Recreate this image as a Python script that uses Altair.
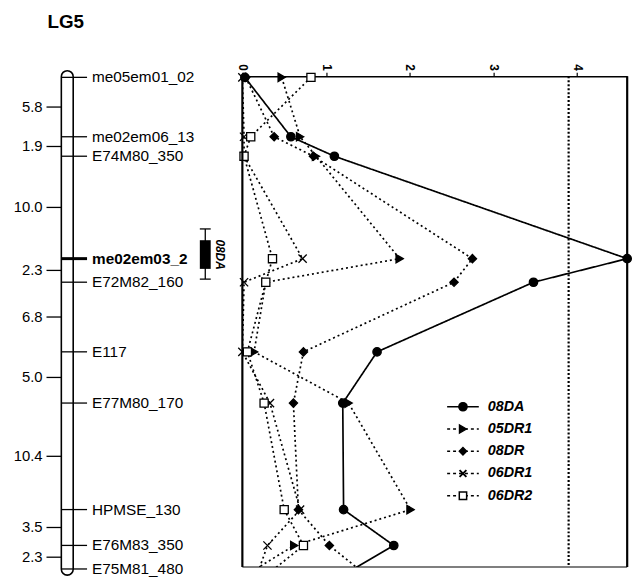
import altair as alt
import pandas as pd

FONT = "Liberation Sans"

# ---------------- data ----------------
markers = ["me05em01_02", "me02em06_13", "E74M80_350", "me02em03_2", "E72M82_160",
           "E117", "E77M80_170", "HPMSE_130", "E76M83_350", "E75M81_480"]
intervals = [5.8, 1.9, 10.0, 2.3, 6.8, 5.0, 10.4, 3.5, 2.3]   # cM between markers
series_names = ["08DA", "05DR1", "08DR", "06DR1", "06DR2"]
lod_08DA = [0.03, 0.58, 1.10, 4.60, 3.48, 1.61, 1.20, 1.21, 1.81, 1.33]
lod_05DR1 = [0.47, 0.69, 0.88, 1.88, 0.28, 0.14, 1.27, 2.01, 0.62, 0.16]
lod_08DR = [0.04, 0.38, 0.85, 2.75, 2.53, 0.73, 0.61, 0.67, 1.04, 1.39]
lod_06DR1 = [0.00, 0.02, 0.02, 0.72, 0.02, 0.00, 0.33, 0.69, 0.30, 0.20]
lod_06DR2 = [0.82, 0.10, 0.02, 0.36, 0.28, 0.06, 0.26, 0.50, 0.73, 0.38]
qtl_name = "08DA"
qtl_marker = "me02em03_2"
qtl_box = [15.9, 18.7]       # cM
qtl_whisker = [14.8, 19.7]   # cM
threshold = 3.9
x_ticks = [0, 1, 2, 3, 4]
title_text = "LG5"

# cumulative positions
pos = [0.0]
for d in intervals:
    pos.append(round(pos[-1] + d, 1))

lods = [lod_08DA, lod_05DR1, lod_08DR, lod_06DR1, lod_06DR2]
rows = []
for s, vals in zip(series_names, lods):
    for m, p, v in zip(markers, pos, vals):
        rows.append({"series": s, "marker": m, "pos": p, "lod": v})
df = pd.DataFrame(rows)
mk_df = pd.DataFrame({"marker": markers, "pos": pos})
iv_df = pd.DataFrame({"label": [f"{v:.1f}" for v in intervals],
                      "mid": [(pos[i] + pos[i + 1]) / 2 for i in range(len(intervals))]})

# ---------------- left panel: chromosome ----------------
Y_MAX_R = 47.8
ysc_left = alt.Scale(domain=[-0.1, 48.0], reverse=True, nice=False, zero=False)


def YL(f):
    return alt.Y(f"{f}:Q", scale=ysc_left, axis=None)


chrom = alt.Chart(pd.DataFrame({"top": [pos[0] - 0.65], "bot": [pos[-1] + 0.6]})).mark_rect(
    cornerRadius=6, fill="white", stroke="black", strokeWidth=1.6
).encode(x=alt.value(62), x2=alt.value(74), y=YL("top"), y2="bot:Q")

mk_rules = alt.Chart(mk_df).transform_filter(alt.datum.marker != qtl_marker).mark_rule(
    color="black", strokeWidth=1.3
).encode(x=alt.value(62), x2=alt.value(88), y=YL("pos"))
mk_rule_b = alt.Chart(mk_df).transform_filter(alt.datum.marker == qtl_marker).mark_rule(
    color="black", strokeWidth=3
).encode(x=alt.value(62), x2=alt.value(88), y=YL("pos"))
mk_text = alt.Chart(mk_df).transform_filter(alt.datum.marker != qtl_marker).mark_text(
    align="left", baseline="middle", font=FONT, fontSize=15.5, color="black"
).encode(x=alt.value(93), y=YL("pos"), text="marker:N")
mk_text_b = alt.Chart(mk_df).transform_filter(alt.datum.marker == qtl_marker).mark_text(
    align="left", baseline="middle", font=FONT, fontSize=15.5, fontWeight="bold", color="black"
).encode(x=alt.value(93), y=YL("pos"), text="marker:N")

iv_rules = alt.Chart(iv_df).mark_rule(color="black", strokeWidth=1.3).encode(
    x=alt.value(47), x2=alt.value(62), y=YL("mid"))
iv_text = alt.Chart(iv_df).mark_text(
    align="right", baseline="middle", font=FONT, fontSize=15, color="black"
).encode(x=alt.value(43), y=YL("mid"), text="label:N")

qtl_df = pd.DataFrame({"name": [qtl_name], "b0": [qtl_box[0]], "b1": [qtl_box[1]],
                       "w0": [qtl_whisker[0]], "w1": [qtl_whisker[1]],
                       "mid": [(qtl_box[0] + qtl_box[1]) / 2]})
qtl_w = alt.Chart(qtl_df).mark_rule(color="black", strokeWidth=1.3).encode(
    x=alt.value(207.5), y=YL("w0"), y2="w1:Q")
qtl_c0 = alt.Chart(qtl_df).mark_rule(color="black", strokeWidth=1.3).encode(
    x=alt.value(202), x2=alt.value(213), y=YL("w0"))
qtl_c1 = alt.Chart(qtl_df).mark_rule(color="black", strokeWidth=1.3).encode(
    x=alt.value(202), x2=alt.value(213), y=YL("w1"))
qtl_b = alt.Chart(qtl_df).mark_rect(color="black").encode(
    x=alt.value(202), x2=alt.value(213), y=YL("b0"), y2="b1:Q")
qtl_t = alt.Chart(qtl_df).mark_text(
    angle=90, align="center", baseline="middle", font=FONT, fontSize=12,
    fontWeight="bold", fontStyle="italic", color="black"
).encode(x=alt.value(222), y=YL("mid"), text="name:N")

title_mark = alt.Chart(pd.DataFrame({"t": [title_text]})).mark_text(
    align="left", baseline="top", font=FONT, fontSize=19, fontWeight="bold", color="black"
).encode(x=alt.value(48), y=alt.value(-64), text="t:N")

left = alt.layer(chrom, mk_rules, mk_rule_b, mk_text, mk_text_b, iv_rules, iv_text,
                 qtl_w, qtl_c0, qtl_c1, qtl_b, qtl_t, title_mark).properties(width=245, height=498)

# ---------------- right panel: LOD profiles ----------------
xsc = alt.Scale(domain=[0, 4.6], nice=False, zero=False)
ysc_r = alt.Scale(domain=[-0.1, Y_MAX_R], reverse=True, nice=False, zero=False)
x_axis = alt.Axis(orient="top", values=x_ticks, labelAngle=90, title=None, grid=False,
                  tickSize=4, tickWidth=1.2, labelFontSize=12, labelFontWeight="bold",
                  labelFont=FONT, labelColor="black", domainColor="black", tickColor="black",
                  domainWidth=1.5, labelPadding=2)


def XR(f):
    return alt.X(f"{f}:Q", scale=xsc, axis=x_axis)


def YR(f):
    return alt.Y(f"{f}:Q", scale=ysc_r, axis=None)


dash_scale = alt.Scale(domain=series_names, range=[[1, 0], [2, 3], [2, 3], [2, 3], [2, 3]])
XPATH = "M-1,-1L1,1M-1,1L1,-1"
shape_map = {"08DA": "circle", "05DR1": "triangle-right", "08DR": "diamond",
             "06DR1": XPATH, "06DR2": "square"}
fill_map = {"08DA": "black", "05DR1": "black", "08DR": "black",
            "06DR1": "transparent", "06DR2": "white"}
size_map = {"08DA": 72, "05DR1": 68, "08DR": 58, "06DR1": 48, "06DR2": 55}
sw_map = {"08DA": 1.3, "05DR1": 1.3, "08DR": 1.3, "06DR1": 1.9, "06DR2": 1.5}
dash_map = {"08DA": [1, 0], "05DR1": [3, 3], "08DR": [3, 3], "06DR1": [3, 3], "06DR2": [3, 3]}

thr = alt.Chart(pd.DataFrame({"t": [threshold]})).mark_rule(
    color="black", strokeWidth=2.2, strokeDash=[2, 2]
).encode(x=XR("t"))

lines = alt.Chart(df).mark_line(color="black", strokeWidth=1.7, clip=True).encode(
    x=XR("lod"), y=YR("pos"), detail="series:N",
    strokeDash=alt.StrokeDash("series:N", scale=dash_scale, legend=None),
    order="pos:Q")

pts = alt.Chart(df).transform_filter(alt.datum.pos <= Y_MAX_R).mark_point(
    filled=True, opacity=1
).encode(
    x=XR("lod"), y=YR("pos"),
    shape=alt.Shape("series:N", scale=alt.Scale(domain=series_names,
                    range=[shape_map[s] for s in series_names]), legend=None),
    fill=alt.Fill("series:N", scale=alt.Scale(domain=series_names,
                  range=[fill_map[s] for s in series_names]), legend=None),
    size=alt.Size("series:N", scale=alt.Scale(domain=series_names,
                  range=[size_map[s] for s in series_names]), legend=None),
    strokeWidth=alt.StrokeWidth("series:N", scale=alt.Scale(domain=series_names,
                  range=[sw_map[s] for s in series_names]), legend=None),
    stroke=alt.value("black"))

bdf = pd.DataFrame({"x0": [0.0], "x1": [4.6], "yb": [Y_MAX_R]})
b_left = alt.Chart(bdf).mark_rule(color="black", strokeWidth=2.2).encode(x=XR("x0"))
b_right = alt.Chart(bdf).mark_rule(color="black", strokeWidth=2.2).encode(x=XR("x1"))
b_bottom = alt.Chart(bdf).mark_rule(color="black", strokeWidth=1.2).encode(y=YR("yb"))

leg_df = pd.DataFrame({"series": series_names})
leg_layers = []
for i, s in enumerate(series_names):
    yv = 334 + 22.5 * i
    base = alt.Chart(leg_df).transform_filter(alt.datum.series == s)
    leg_layers.append(base.mark_rule(color="black", strokeWidth=1.5, strokeDash=dash_map[s]).encode(
        x=alt.value(207), x2=alt.value(239), y=alt.value(yv)))
    leg_layers.append(base.mark_point(shape=shape_map[s], filled=True, fill=fill_map[s],
                                      stroke="black", strokeWidth=sw_map[s], size=size_map[s],
                                      opacity=1).encode(x=alt.value(223), y=alt.value(yv)))
    leg_layers.append(base.mark_text(align="left", baseline="middle", font=FONT, fontSize=14.5,
                                     fontWeight="bold", fontStyle="italic", color="black").encode(
        x=alt.value(248), y=alt.value(yv), text="series:N"))

right = alt.layer(thr, lines, pts, b_left, b_right, b_bottom, *leg_layers).properties(
    width=389, height=496)

chart = alt.hconcat(left, right, spacing=0, bounds="flush").configure_view(
    stroke=None
).properties(padding={"left": 0, "top": 10, "right": 10, "bottom": 0})

chart.save("out.html", embed_options={"renderer": "svg", "actions": False})
